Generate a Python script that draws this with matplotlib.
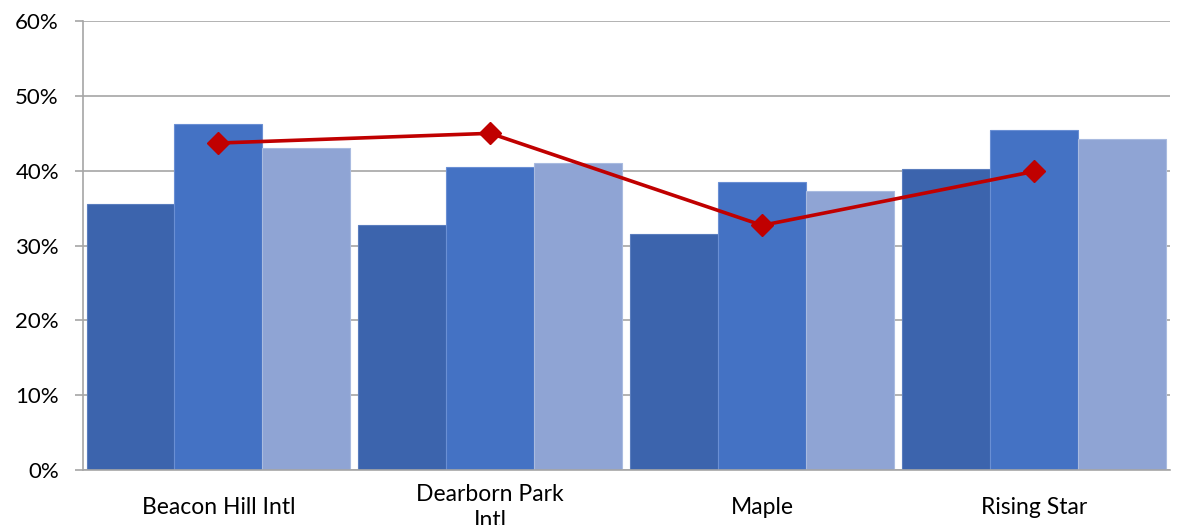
import matplotlib
matplotlib.use("Agg")
import matplotlib.pyplot as plt
import numpy as np
from matplotlib.ticker import PercentFormatter

categories = ["Beacon Hill Intl", "Dearborn Park\nIntl", "Maple", "Rising Star"]
series1 = [35.6, 32.8, 31.6, 40.2]
series2 = [46.3, 40.5, 38.5, 45.4]
series3 = [43.0, 41.0, 37.3, 44.2]
line_vals = [43.7, 45.0, 32.7, 39.9]

colors = ["#3C64AD", "#4472C4", "#8FA4D4"]
edges = ["#5A7DBE", "#6A8FD4", "#A9BBE0"]

plt.rcParams['font.family'] = ['Lato', 'DejaVu Sans']
fig = plt.figure(figsize=(11.77, 5.25), dpi=100)
ax = fig.add_axes([0.0701, 0.1048, 0.9239, 0.855])

x = np.arange(len(categories))
w = 0.3235
for i, (vals, c, e) in enumerate(zip([series1, series2, series3], colors, edges)):
    ax.bar(x + (i - 1) * w, vals, width=w, color=c, edgecolor=e, linewidth=0.8, zorder=2)

ax.plot(x, line_vals, color="#C00000", linewidth=2.6, marker="D", markersize=11,
        markerfacecolor="#C00000", markeredgecolor="#C00000", zorder=3)

ax.set_xlim(-0.5, len(categories) - 0.5)
ax.set_ylim(0, 60)
ax.set_yticks(np.arange(0, 61, 10))
ax.yaxis.set_major_formatter(PercentFormatter(decimals=0))
ax.grid(axis='y', color="#A6A6A6", linewidth=1.2, zorder=0)
ax.set_axisbelow(True)

for s in ["top", "right"]:
    ax.spines[s].set_visible(False)
ax.spines["left"].set_color("#A6A6A6")
ax.spines["bottom"].set_color("#A6A6A6")
ax.spines["left"].set_linewidth(1.2)
ax.spines["bottom"].set_linewidth(1.2)

ax.tick_params(axis='y', length=6, width=1.2, color="#A6A6A6", labelsize=16, pad=11, labelcolor="#000000")
ax.set_xticks(x)
ax.set_xticklabels(categories, fontsize=16.5, va='center', linespacing=1.35)
ax.tick_params(axis='x', length=0, pad=27)

fig.savefig("out.png", dpi=100)
